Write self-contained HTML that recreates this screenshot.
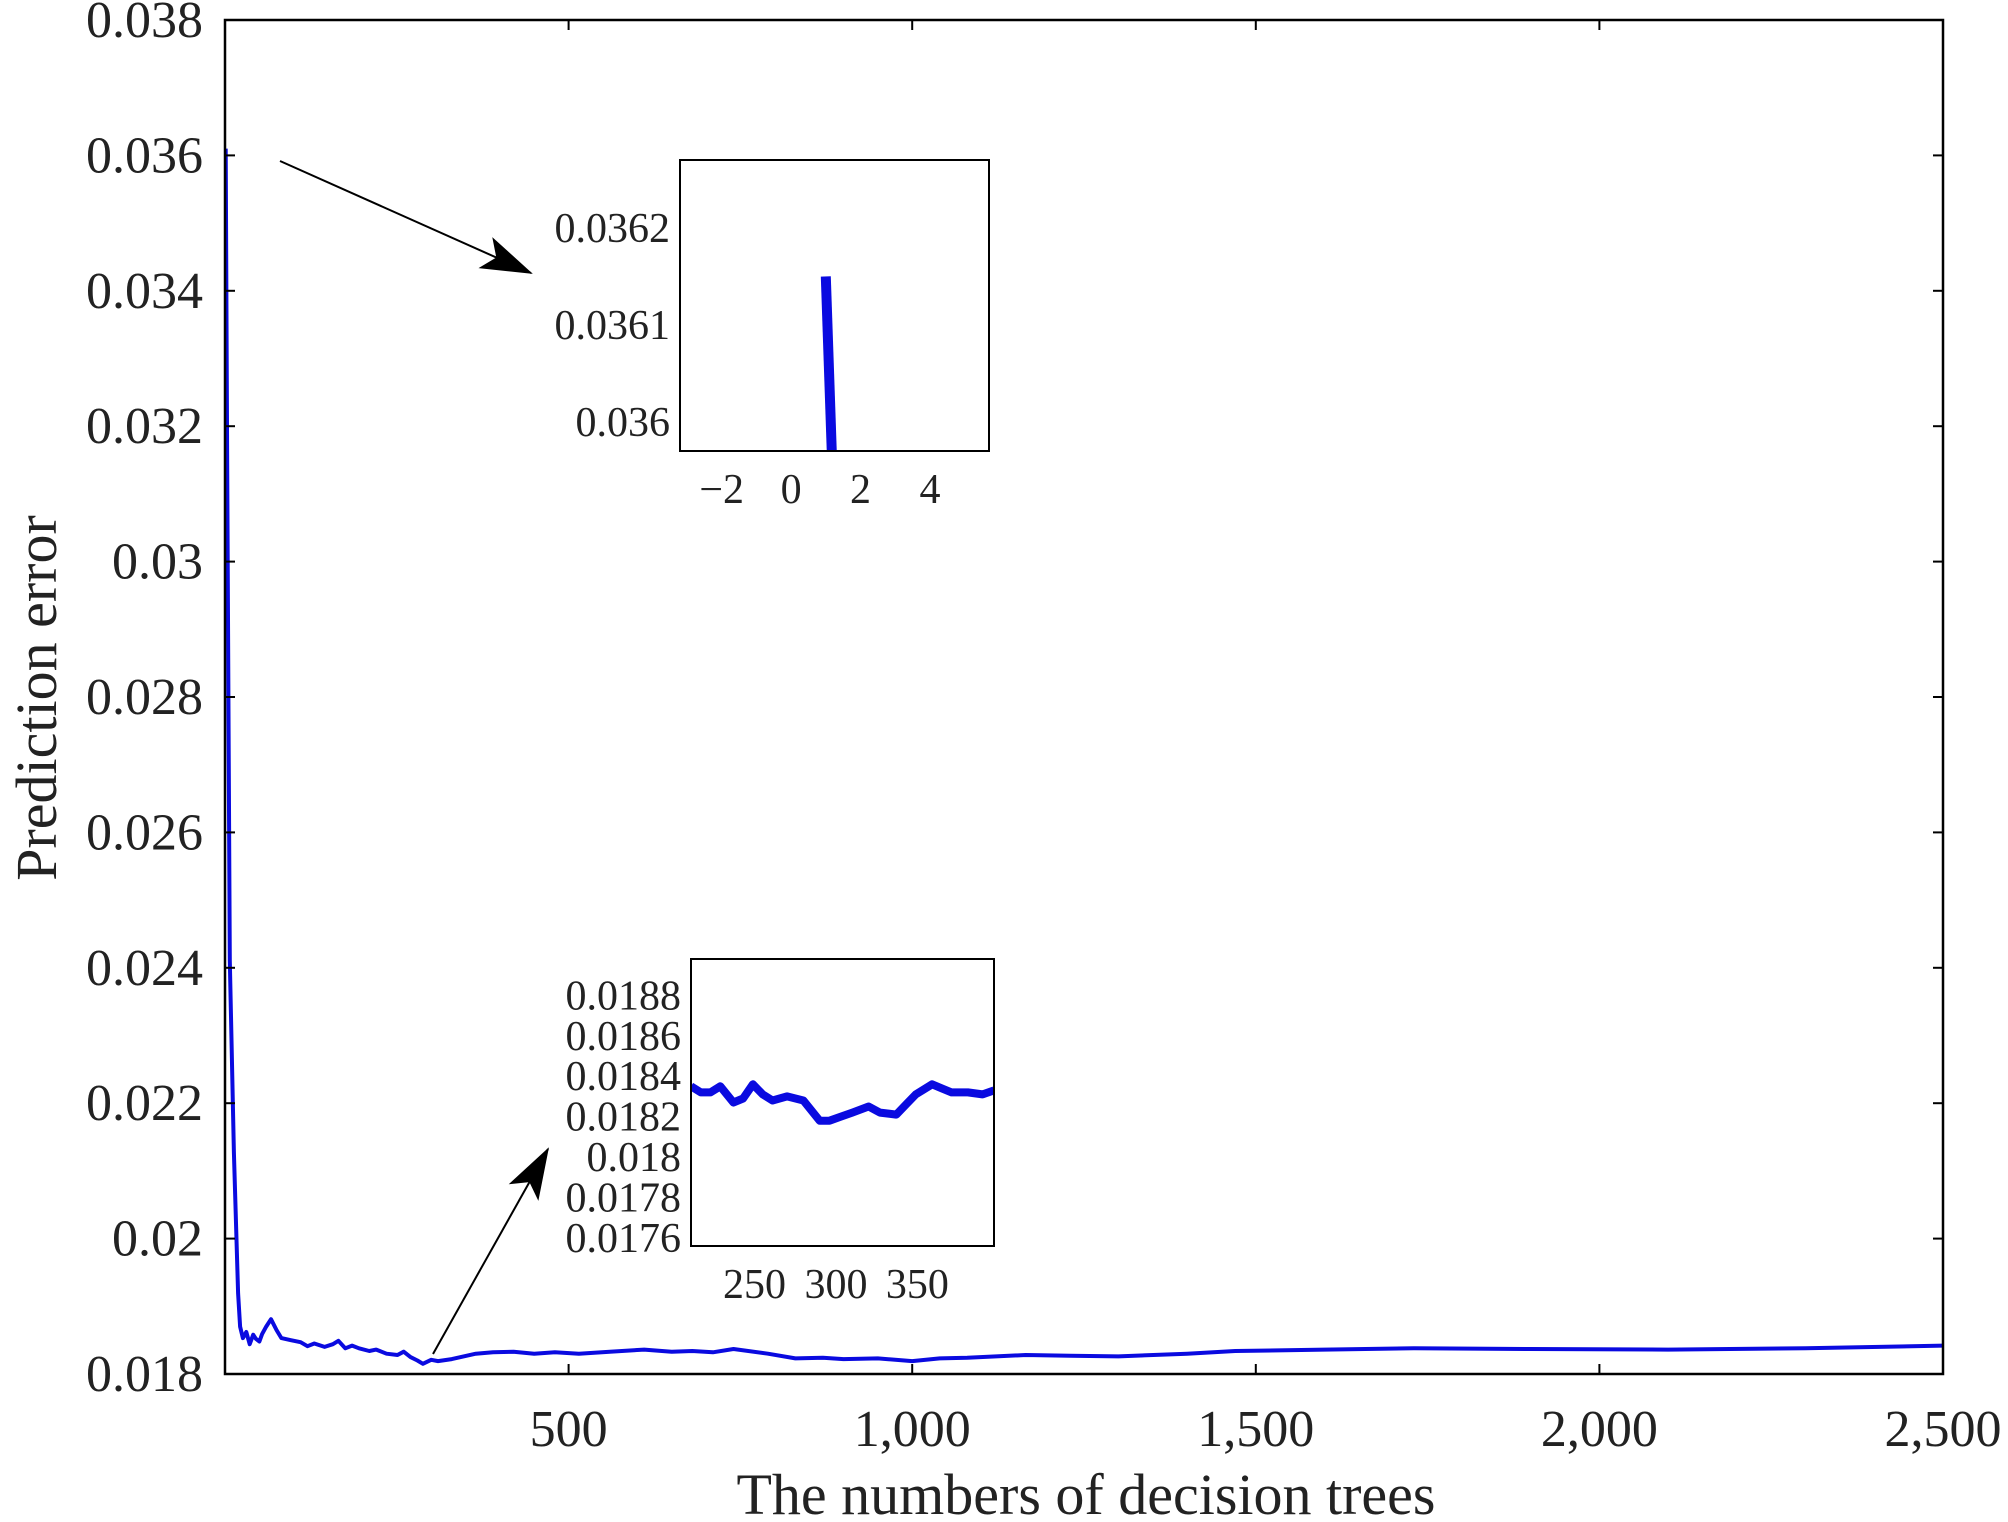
<!DOCTYPE html>
<html><head><meta charset="utf-8"><style>
html,body{margin:0;padding:0;background:#fff;}
svg{display:block;font-family:"Liberation Serif",serif;}
</style></head><body>
<svg id="chart" width="2008" height="1522" viewBox="0 0 2008 1522" xmlns="http://www.w3.org/2000/svg">
<defs><marker id="ah" markerWidth="52" markerHeight="34" refX="50" refY="17" orient="auto" markerUnits="userSpaceOnUse" viewBox="0 0 52 34"><path d="M0,0 L52,17 L0,34 L12,17 Z" fill="#000"/></marker></defs>
<g id="main"></g>
</svg>
<script>
// main chart data
const mainX=[1,3,7,13,19,22,26,31,36,41,45,50,54,60,67,75,82,95,110,120,130,145,157,165,175,185,195,210,220,235,251,260,270,280,288,300,310,330,365,390,420,450,480,515,560,610,650,680,710,740,790,830,870,900,950,1000,1040,1080,1165,1230,1300,1400,1470,1600,1730,1900,2100,2300,2500];
const mainY=[0.0361,0.03168,0.02411,0.02127,0.01919,0.01870,0.01853,0.01862,0.01844,0.01858,0.01852,0.01848,0.01859,0.01870,0.01881,0.01865,0.01853,0.01850,0.01847,0.01841,0.01845,0.01840,0.01844,0.01849,0.01838,0.01842,0.01838,0.01834,0.01836,0.01830,0.01828,0.01833,0.01825,0.01820,0.01815,0.01821,0.01819,0.01822,0.01830,0.01832,0.01833,0.01830,0.01832,0.01830,0.01833,0.01836,0.01833,0.01834,0.01832,0.01837,0.01830,0.01823,0.01824,0.01822,0.01823,0.01819,0.01823,0.01824,0.01828,0.01827,0.01826,0.01830,0.01834,0.01836,0.01838,0.01837,0.01836,0.01838,0.01842];
const mainYTicks=[0.018,0.02,0.022,0.024,0.026,0.028,0.03,0.032,0.034,0.036,0.038];
const mainYTickLabels=["0.018","0.02","0.022","0.024","0.026","0.028","0.03","0.032","0.034","0.036","0.038"];
const mainXTicks=[500,1000,1500,2000,2500];
const mainXTickLabels=["500","1,000","1,500","2,000","2,500"];
// inset 1
const in1X=[1,2];
const in1Y=[0.03615,0.0351];
const in1XTicks=[-2,0,2,4];
const in1YTicks=[0.036,0.0361,0.0362];
const in1YTickLabels=["0.036","0.0361","0.0362"];
// inset 2
const in2X=[211,217,223,229,237,243,249,255,261,270,280,290,296,303,310,320,327,337,343,349,359,365,371,381,390,397];
const in2Y=[0.01835,0.01832,0.01832,0.01835,0.01827,0.01829,0.01836,0.01831,0.01828,0.01830,0.01828,0.01818,0.01818,0.01820,0.01822,0.01825,0.01822,0.01821,0.01826,0.01831,0.01836,0.01834,0.01832,0.01832,0.01831,0.01833];
const in2XTicks=[250,300,350];
const in2YTicks=[0.0176,0.0178,0.018,0.0182,0.0184,0.0186,0.0188];
const in2YTickLabels=["0.0176","0.0178","0.018","0.0182","0.0184","0.0186","0.0188"];

const NS="http://www.w3.org/2000/svg";
const root=document.getElementById('main');
function mk(tag,attrs,parent){const e=document.createElementNS(NS,tag);for(const k in attrs)e.setAttribute(k,attrs[k]);(parent||root).appendChild(e);return e;}

function axes(box,xd,yd){
  const sx=v=>box.x0+(v-xd[0])/(xd[1]-xd[0])*(box.x1-box.x0);
  const sy=v=>box.y1-(v-yd[0])/(yd[1]-yd[0])*(box.y1-box.y0);
  return {sx,sy};
}
function pathD(xs,ys,sx,sy){return xs.map((x,i)=>(i?'L':'M')+sx(x).toFixed(1)+','+sy(ys[i]).toFixed(1)).join(' ');}

// ---- main
const B={x0:225,x1:1943,y0:20,y1:1374};
const M=axes(B,[0,2500],[0.018,0.038]);
const clipM=mk('clipPath',{id:'cm'});mk('rect',{x:B.x0,y:B.y0,width:B.x1-B.x0,height:B.y1-B.y0},clipM);
const ml=mk('path',{d:pathD(mainX,mainY,M.sx,M.sy),fill:'none',stroke:'#0a0ae0','stroke-width':4,'stroke-linejoin':'round','clip-path':'url(#cm)'});


mainYTicks.forEach((v,i)=>{
  const y=M.sy(v);
  mk('line',{x1:B.x0,x2:B.x0+10,y1:y,y2:y,stroke:'#000','stroke-width':2});
  mk('line',{x1:B.x1,x2:B.x1-10,y1:y,y2:y,stroke:'#000','stroke-width':2});
  const t=mk('text',{x:203,y:y+17,'text-anchor':'end','font-size':52,fill:'#222'});t.textContent=mainYTickLabels[i];
  
  
});
mainXTicks.forEach((v,i)=>{
  const x=M.sx(v);
  mk('line',{x1:x,x2:x,y1:B.y1,y2:B.y1-10,stroke:'#000','stroke-width':2});
  mk('line',{x1:x,x2:x,y1:B.y0,y2:B.y0+10,stroke:'#000','stroke-width':2});
  const t=mk('text',{x:x,y:1446,'text-anchor':'middle','font-size':52,fill:'#222'});t.textContent=mainXTickLabels[i];
  
  
});
const fr=mk('rect',{x:B.x0,y:B.y0,width:B.x1-B.x0,height:B.y1-B.y0,fill:'none',stroke:'#000','stroke-width':2.5});


const xt=mk('text',{x:1086,y:1514,'text-anchor':'middle','font-size':58,fill:'#222'});xt.textContent='The numbers of decision trees';


const yt=mk('text',{x:0,y:0,'text-anchor':'middle','font-size':58,fill:'#222',transform:'translate(56,698) rotate(-90)'});yt.textContent='Prediction error';



// arrows
const a1=mk('line',{x1:280,y1:161,x2:531,y2:273,stroke:'#000','stroke-width':2,'marker-end':'url(#ah)'});


const a2=mk('line',{x1:433,y1:1354,x2:548,y2:1149,stroke:'#000','stroke-width':2,'marker-end':'url(#ah)'});



// inset generic
function inset(name,box,xd,yd,xs,ys,xticks,xlabels,yticks,ylabels,lw){
  const g=mk('g',{});
  
  
  mk('rect',{x:box.x0,y:box.y0,width:box.x1-box.x0,height:box.y1-box.y0,fill:'#fff'},g);
  const A=axes(box,xd,yd);
  const cid=name+'-clip';
  const c=mk('clipPath',{id:cid},g);mk('rect',{x:box.x0,y:box.y0,width:box.x1-box.x0,height:box.y1-box.y0},c);
  const p=mk('path',{d:pathD(xs,ys,A.sx,A.sy),fill:'none',stroke:'#0a0ae0','stroke-width':lw,'stroke-linejoin':'round','clip-path':'url(#'+cid+')'},g);
  
  
  mk('rect',{x:box.x0,y:box.y0,width:box.x1-box.x0,height:box.y1-box.y0,fill:'none',stroke:'#000','stroke-width':2},g);
  yticks.forEach((v,i)=>{const t=mk('text',{x:box.x0-10,y:A.sy(v)+14,'text-anchor':'end','font-size':42,fill:'#222'},g);t.textContent=ylabels[i];
    
    });
  xticks.forEach((v,i)=>{const t=mk('text',{x:A.sx(v),y:box.y1+52,'text-anchor':'middle','font-size':42,fill:'#222'},g);t.textContent=xlabels[i];
    
    });
}
inset('inset-initial',{x0:680,x1:989,y0:160,y1:451},[-3.2,5.7],[0.03597,0.03627],in1X,in1Y,in1XTicks,in1XTicks.map(v=>v<0?'\u2212'+(-v):String(v)),in1YTicks,in1YTickLabels,10);
inset('inset-plateau',{x0:691,x1:994,y0:959,y1:1246},[211,397],[0.01756,0.01898],in2X,in2Y,in2XTicks,in2XTicks.map(String),in2YTicks,in2YTickLabels,8);
</script>
</body></html>
